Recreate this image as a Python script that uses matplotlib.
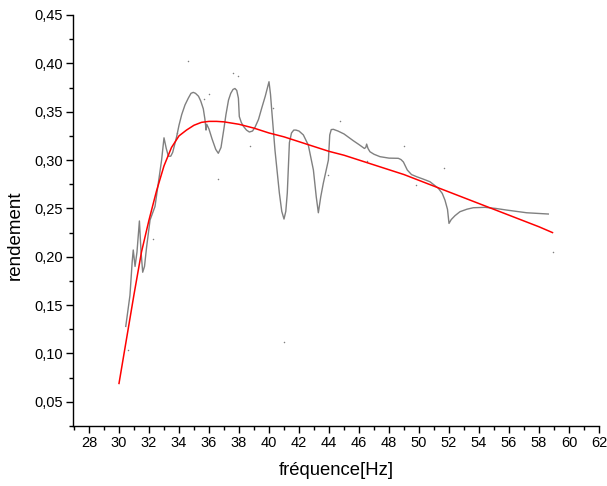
import matplotlib
matplotlib.use("Agg")
import matplotlib.pyplot as plt
from matplotlib.ticker import MultipleLocator, FuncFormatter

plt.rcParams['font.family'] = ['Liberation Sans', 'DejaVu Sans']

# Measured (gray) efficiency curve
freq_meas = [30.45, 30.73, 30.88, 30.95, 31.07, 31.2, 31.36, 31.47, 31.58, 31.7, 31.84,
             32.07, 32.4, 32.62, 32.84, 33.0, 33.15, 33.29, 33.45, 33.58, 33.84, 34.0,
             34.18, 34.4, 34.62, 34.8, 34.95, 35.1, 35.3, 35.45, 35.62, 35.72, 35.78,
             35.8, 35.85, 36.0, 36.2, 36.45, 36.62, 36.8, 37.0, 37.13, 37.3, 37.45,
             37.6, 37.73, 37.85, 37.96, 38.02, 38.15, 38.29, 38.5, 38.69, 38.9, 39.07,
             39.3, 39.51, 39.75, 40.0, 40.1, 40.18, 40.4, 40.69, 40.85, 41.0, 41.12,
             41.22, 41.36, 41.5, 41.65, 41.8, 42.0, 42.29, 42.62, 42.96, 43.15, 43.29,
             43.45, 43.62, 43.96, 44.05, 44.15, 44.29, 44.6, 45.0, 45.62, 46.0, 46.36,
             46.45, 46.51, 46.6, 46.73, 47.0, 47.4, 48.0, 48.62, 48.8, 48.96, 49.22,
             49.5, 49.84, 50.3, 50.73, 51.29, 51.55, 51.73, 51.9, 52.0, 52.15, 52.4,
             52.73, 53.2, 53.62, 54.4, 55.1, 55.84, 57.18, 58.62]
eff_meas = [0.128, 0.160, 0.195, 0.207, 0.190, 0.205, 0.237, 0.205, 0.184, 0.190, 0.210,
            0.238, 0.252, 0.276, 0.300, 0.323, 0.312, 0.304, 0.304, 0.308, 0.324, 0.336,
            0.347, 0.357, 0.364, 0.369, 0.370, 0.369, 0.366, 0.361, 0.353, 0.343, 0.335,
            0.331, 0.337, 0.332, 0.322, 0.311, 0.307, 0.313, 0.333, 0.347, 0.362, 0.369,
            0.373, 0.374, 0.372, 0.364, 0.345, 0.339, 0.335, 0.331, 0.329, 0.330, 0.334,
            0.342, 0.3535, 0.366, 0.381, 0.368, 0.352, 0.310, 0.266, 0.247, 0.239, 0.247,
            0.266, 0.318, 0.328, 0.331, 0.331, 0.330, 0.326, 0.3155, 0.2897, 0.262, 0.2455,
            0.262, 0.276, 0.300, 0.326, 0.3315, 0.3318, 0.330, 0.327, 0.320, 0.316, 0.312,
            0.313, 0.3165, 0.312, 0.3086, 0.306, 0.3035, 0.302, 0.3018, 0.3005, 0.298, 0.2897,
            0.285, 0.2828, 0.2802, 0.2776, 0.2708, 0.2655, 0.2586, 0.249, 0.2345, 0.2385, 0.2425,
            0.2466, 0.2492, 0.2507, 0.2511, 0.2500, 0.2483, 0.2455, 0.2442]

# Fitted (red) curve
freq_fit = [30.0, 30.5, 31.0, 31.5, 32.0, 32.5, 33.0, 33.5, 34.0, 34.5, 35.0, 35.5, 36.0,
            36.5, 37.0, 38.0, 39.0, 40.0, 41.0, 42.0, 43.0, 44.0, 45.0, 46.0, 47.0, 48.0,
            49.0, 50.0, 51.0, 52.0, 53.0, 54.0, 55.0, 56.0, 57.0, 58.0, 58.9]
eff_fit = [0.069, 0.115, 0.161, 0.205, 0.238, 0.268, 0.294, 0.313, 0.325, 0.331, 0.336, 0.339,
           0.340, 0.340, 0.3395, 0.337, 0.333, 0.328, 0.324, 0.319, 0.314, 0.309, 0.305,
           0.300, 0.295, 0.290, 0.285, 0.279, 0.273, 0.267, 0.261, 0.255, 0.249, 0.243,
           0.237, 0.231, 0.225]

# Scattered raw points
freq_pts = [34.62, 37.58, 37.96, 36.02, 35.69, 33.84, 38.73, 36.58, 32.29, 44.73, 43.96,
            49.02, 51.67, 49.8, 46.51, 58.91, 41.0, 30.62, 40.24]
eff_pts = [0.402, 0.390, 0.387, 0.368, 0.363, 0.328, 0.3145, 0.280, 0.218, 0.340, 0.285,
           0.3145, 0.2914, 0.274, 0.299, 0.2045, 0.112, 0.104, 0.3535]

W, H = 607, 486
fig = plt.figure(figsize=(W / 100, H / 100), dpi=100)
ax = fig.add_axes([73 / W, 1 - 426 / H, (599 - 73) / W, (426 - 15) / H])

ax.plot(freq_meas, eff_meas, color='#808080', lw=1.0)
ax.plot(freq_fit, eff_fit, color='#ff0000', lw=1.1)
ax.scatter(freq_pts, eff_pts, s=1.2, color='#808080', linewidths=0)

ax.set_xlim(28 - 16 / 15, 62)
ax.set_ylim(0.025, 0.45)

for s in ('top', 'right'):
    ax.spines[s].set_visible(False)
for s in ('left', 'bottom'):
    ax.spines[s].set_linewidth(1.0)

ax.set_xticks(range(28, 63, 2))
ax.xaxis.set_minor_locator(MultipleLocator(1))
ax.set_yticks([0.05, 0.10, 0.15, 0.20, 0.25, 0.30, 0.35, 0.40, 0.45])
ax.yaxis.set_minor_locator(MultipleLocator(0.025))
ax.yaxis.set_major_formatter(FuncFormatter(lambda v, p: f"{v:.2f}".replace('.', ',')))
ax.tick_params(which='major', direction='out', length=5, width=1, labelsize=10.5, pad=2)
ax.tick_params(which='minor', direction='out', length=3, width=1)

fig.text(336 / W, 1 - 470 / H, 'fréquence[Hz]', ha='center', va='center', fontsize=13.3)
fig.text(15 / W, 1 - 235 / H, 'rendement', ha='center', va='center', rotation=90, fontsize=13.5)

fig.savefig('out.png', dpi=100)
